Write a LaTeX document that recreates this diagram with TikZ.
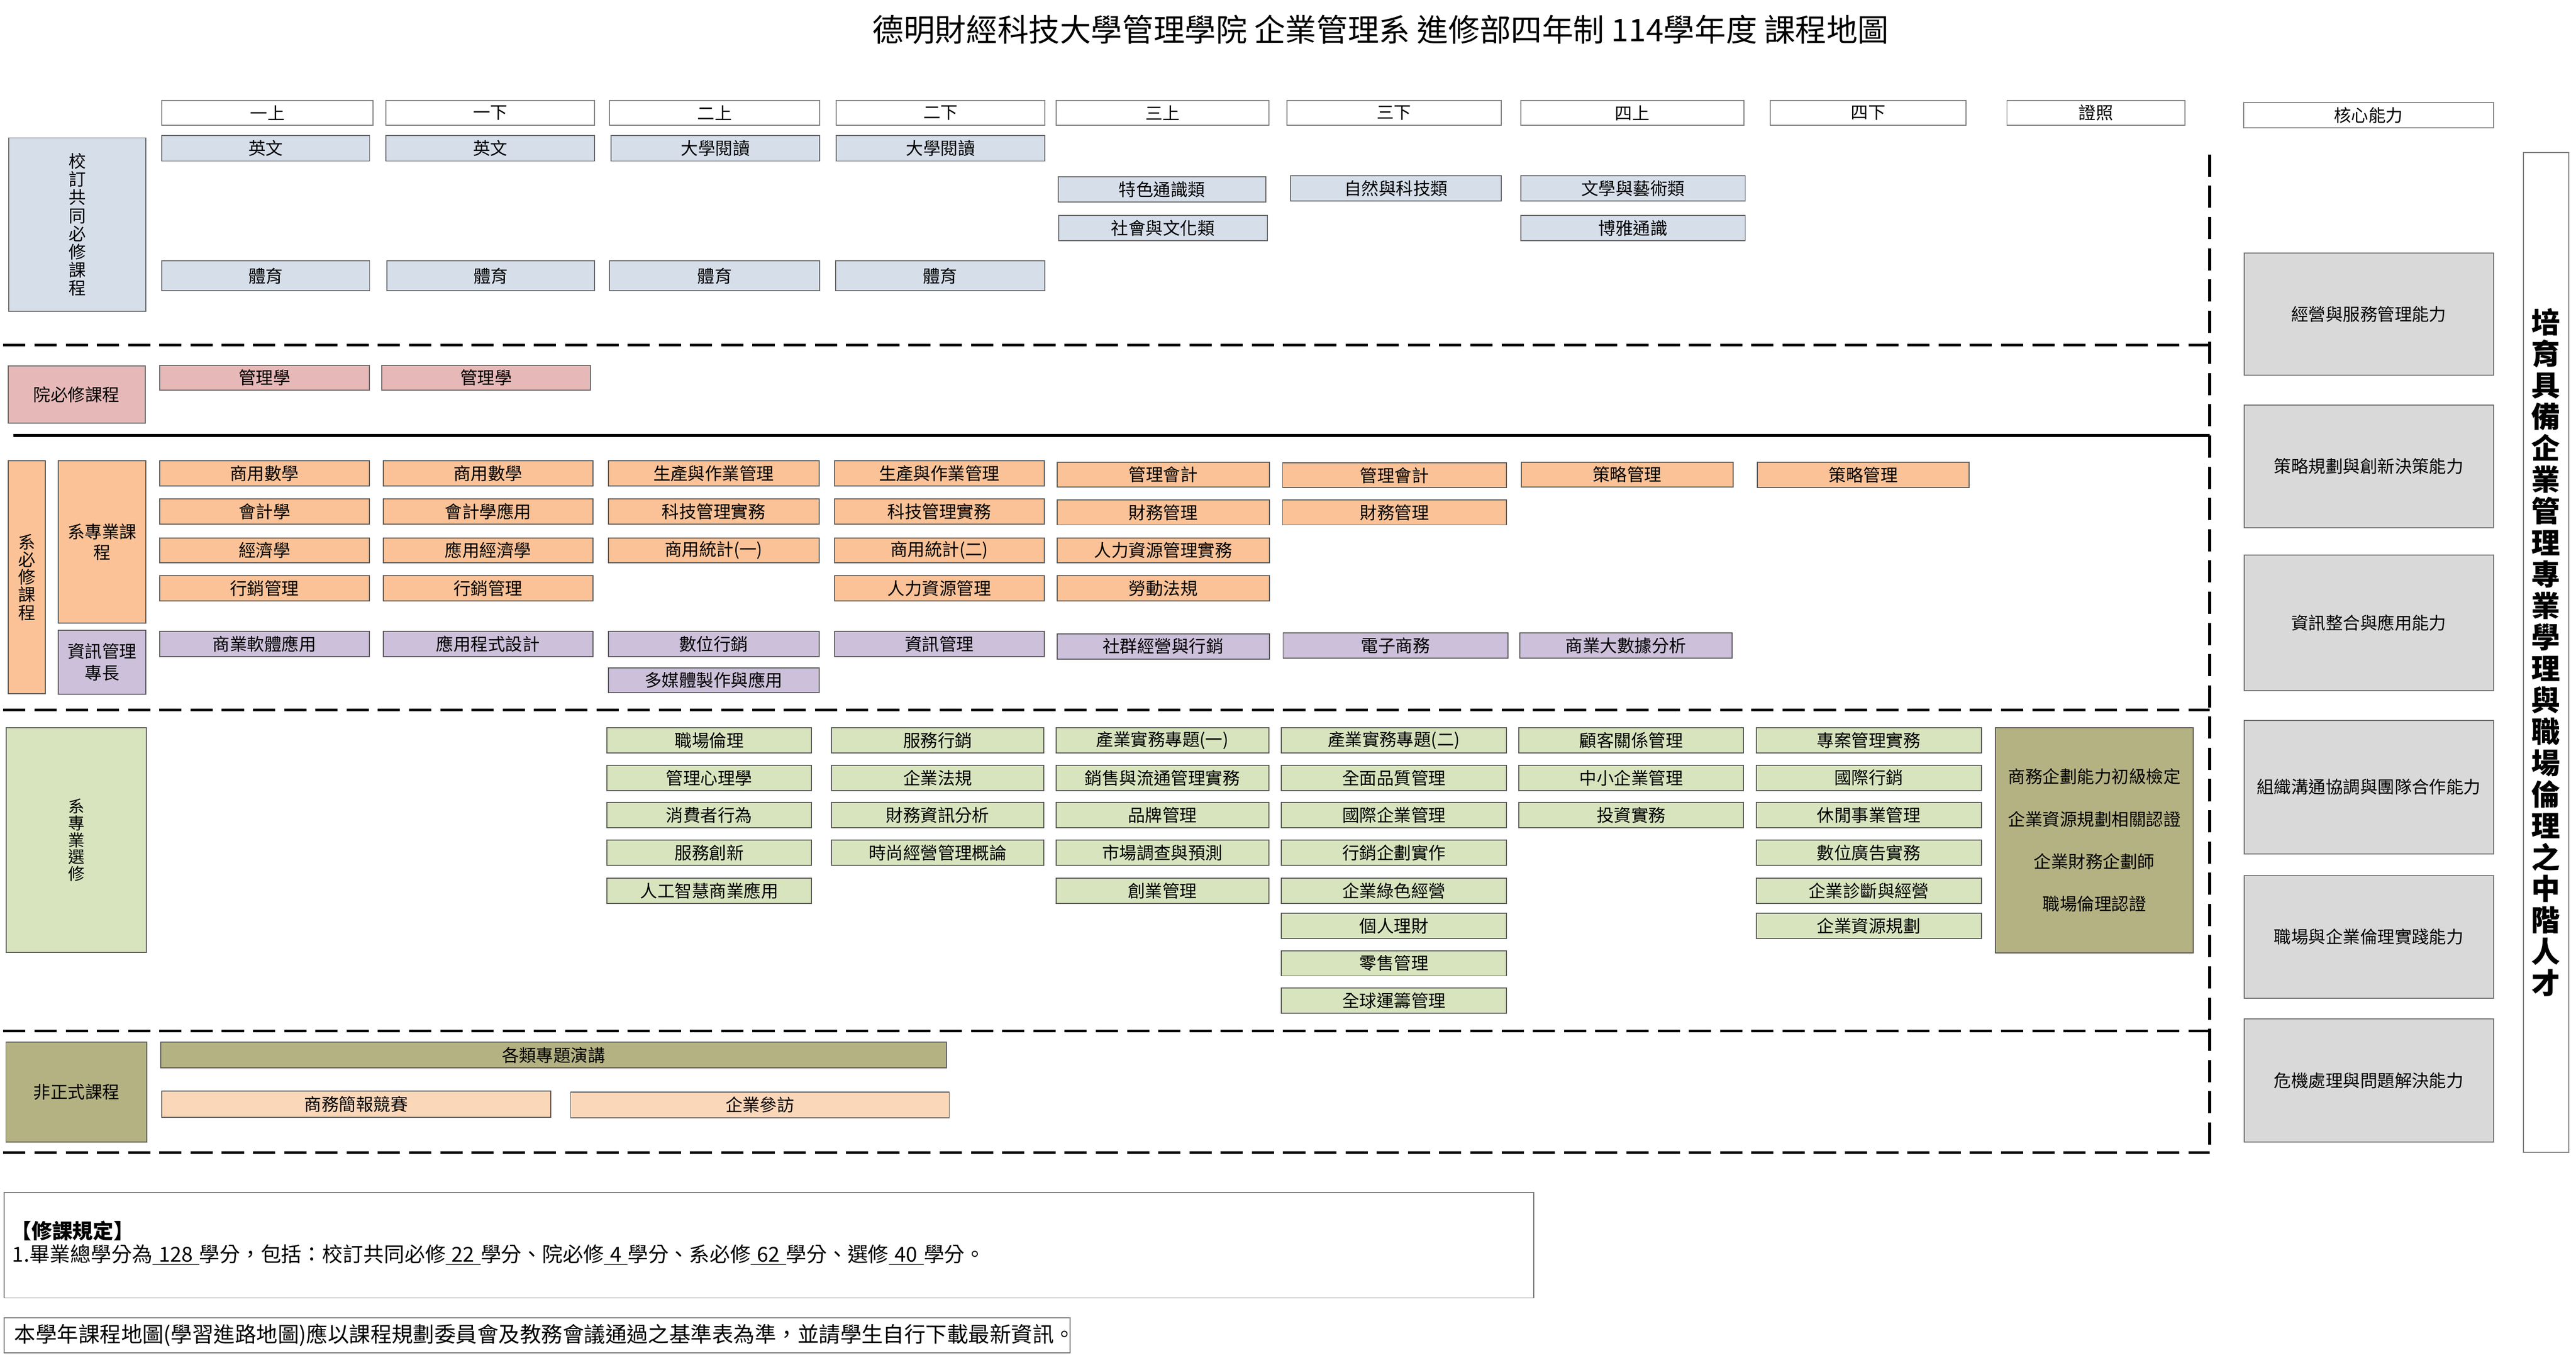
\documentclass[tikz,border=0pt]{standalone}
\usepackage{fontspec}
\setmainfont{Noto Sans CJK TC}
\definecolor{genc}{RGB}{214,222,234}
\definecolor{pinkc}{RGB}{230,185,184}
\definecolor{orgc}{RGB}{250,194,150}
\definecolor{purc}{RGB}{204,192,218}
\definecolor{grnc}{RGB}{216,228,190}
\definecolor{olvc}{RGB}{180,178,130}
\definecolor{pchc}{RGB}{251,215,185}
\definecolor{corec}{RGB}{217,217,217}
\newcommand\crsbox[7]{%
  \node[#6, minimum width={(#4-#2)*1pt}, minimum height={(#5-#3)*1pt}] (#1) at ({(#2+#4)/2},{(#3+#5)/2}) {#7};}
\begin{document}
\begin{tikzpicture}[x=1pt,y=-1pt,
  base/.style={inner sep=0pt, outer sep=0pt, font=\fontsize{10.5}{12}\selectfont, line width=0.6pt, align=center},
  hdr/.style={base, draw=black!50, fill=white},
  gen/.style={base, draw=black!60, fill=genc},
  pk/.style={base, draw=black!60, fill=pinkc},
  org/.style={base, draw=black!65, fill=orgc},
  pur/.style={base, draw=black!65, fill=purc},
  grn/.style={base, draw=black!65, fill=grnc},
  olv/.style={base, draw=black!65, fill=olvc},
  pch/.style={base, draw=black!65, fill=pchc},
  core/.style={base, draw=black!55, fill=corec},
  note/.style={inner sep=0pt, anchor=west},
  divider/.style={line width=1.7pt, dash pattern=on 13.5pt off 5.5pt},
  solidline/.style={line width=1.8pt}
]
\useasboundingbox (0,0) rectangle (1568,826.3);

% title
\node[font=\fontsize{19}{22}\selectfont, inner sep=0pt] (title) at (840.5,18) {德明財經科技大學管理學院 企業管理系 進修部四年制 114學年度 課程地圖};

% header row
\crsbox{h1}{98.6}{61.1}{227}{76.3}{hdr}{一上}
\crsbox{h2}{235}{61.1}{362}{76.3}{hdr}{一下}
\crsbox{h3}{371}{61.1}{499}{76.3}{hdr}{二上}
\crsbox{h4}{509}{61.1}{636}{76.3}{hdr}{二下}
\crsbox{h5}{643}{61.1}{772.3}{76.3}{hdr}{三上}
\crsbox{h6}{783.4}{61.1}{913.7}{76.3}{hdr}{三下}
\crsbox{h7}{925.6}{61.1}{1061.4}{76.3}{hdr}{四上}
\crsbox{h8}{1077.5}{61.1}{1196.7}{76.3}{hdr}{四下}
\crsbox{h9}{1221.6}{61.1}{1330}{76.3}{hdr}{證照}
\crsbox{hc}{1365.7}{62.5}{1517.7}{77.7}{hdr}{核心能力}

% general required
\crsbox{gl}{5.3}{83.9}{88.8}{189.4}{gen, font=\fontsize{10.5}{11}\selectfont}{校\\訂\\共\\同\\必\\修\\課\\程}
\crsbox{g1}{98.6}{82.6}{225}{98}{gen}{英文}
\crsbox{g2}{235}{82.6}{362}{98}{gen}{英文}
\crsbox{g3}{372}{82.6}{499}{98}{gen}{大學閱讀}
\crsbox{g4}{509}{82.6}{636}{98}{gen}{大學閱讀}
\crsbox{g5}{644}{107.6}{770.5}{123}{gen}{特色通識類}
\crsbox{g6}{785.7}{107}{913.7}{122.4}{gen}{自然與科技類}
\crsbox{g7}{925.6}{107}{1062.3}{122.4}{gen}{文學與藝術類}
\crsbox{g8}{644.4}{131.2}{771.4}{146.5}{gen}{社會與文化類}
\crsbox{g9}{925.6}{131.2}{1062.3}{146.5}{gen}{博雅通識}
\crsbox{g10}{98.6}{158.7}{225}{177}{gen}{體育}
\crsbox{g11}{235.5}{158.7}{362}{177}{gen}{體育}
\crsbox{g12}{371}{158.7}{499}{177}{gen}{體育}
\crsbox{g13}{508.6}{158.7}{636}{177}{gen}{體育}

% college required
\crsbox{ml}{4.9}{222.7}{88.3}{257.5}{pk}{院必修課程}
\crsbox{m1}{97.1}{222.2}{224.9}{237.4}{pk}{管理學}
\crsbox{m2}{232.3}{222.2}{359.5}{237.4}{pk}{管理學}

% department required
\crsbox{dl}{4.9}{280.4}{27.6}{422.1}{org, font=\fontsize{10.5}{10.7}\selectfont}{系\\必\\修\\課\\程}
\crsbox{dp}{35.5}{280.4}{88.8}{379.2}{org, font=\fontsize{10.5}{12.6}\selectfont}{系專業課\\程}
\crsbox{di}{35.5}{383.4}{88.8}{422.4}{pur, font=\fontsize{10.5}{13.3}\selectfont}{資訊管理\\專長}

\crsbox{d11}{97.1}{280.4}{224.9}{295.7}{org}{商用數學}
\crsbox{d12}{97.1}{303.5}{224.9}{318.9}{org}{會計學}
\crsbox{d13}{97.1}{327.3}{224.9}{342.5}{org}{經濟學}
\crsbox{d14}{97.1}{350.4}{224.9}{365.6}{org}{行銷管理}
\crsbox{d21}{233.2}{280.4}{361}{295.7}{org}{商用數學}
\crsbox{d22}{233.2}{303.5}{361}{318.9}{org}{會計學應用}
\crsbox{d23}{233.2}{327.3}{361}{342.5}{org}{應用經濟學}
\crsbox{d24}{233.2}{350.4}{361}{365.6}{org}{行銷管理}
\crsbox{d31}{370.3}{280.4}{498.5}{295.7}{org}{生產與作業管理}
\crsbox{d32}{370.3}{303.5}{498.5}{318.9}{org}{科技管理實務}
\crsbox{d33}{370.3}{327.3}{498.5}{342.5}{org}{商用統計(一)}
\crsbox{d41}{507.9}{280.4}{635.6}{295.7}{org}{生產與作業管理}
\crsbox{d42}{507.9}{303.5}{635.6}{318.9}{org}{科技管理實務}
\crsbox{d43}{507.9}{327.3}{635.6}{342.5}{org}{商用統計(二)}
\crsbox{d44}{507.9}{350.4}{635.6}{365.6}{org}{人力資源管理}
\crsbox{d51}{643.4}{281.2}{772.6}{296.4}{org}{管理會計}
\crsbox{d52}{643.4}{304.2}{772.6}{319.4}{org}{財務管理}
\crsbox{d53}{643.4}{327.3}{772.6}{342.5}{org}{人力資源管理實務}
\crsbox{d54}{643.4}{350.4}{772.6}{365.6}{org}{勞動法規}
\crsbox{d61}{780.7}{281.6}{917}{296.8}{org}{管理會計}
\crsbox{d62}{780.7}{304.2}{917}{319.4}{org}{財務管理}
\crsbox{d71}{926}{281.2}{1054.8}{296.4}{org}{策略管理}
\crsbox{d81}{1069.6}{281.4}{1198.7}{296.6}{org}{策略管理}

\crsbox{i1}{97.1}{384.1}{224.9}{399.6}{pur}{商業軟體應用}
\crsbox{i2}{233.2}{384.1}{361}{399.6}{pur}{應用程式設計}
\crsbox{i3}{370.3}{384.1}{498.5}{399.6}{pur}{數位行銷}
\crsbox{i4}{507.9}{384.1}{635.6}{399.6}{pur}{資訊管理}
\crsbox{i5}{643.4}{385.6}{772.6}{401}{pur}{社群經營與行銷}
\crsbox{i6}{781}{385.2}{918}{400.6}{pur}{電子商務}
\crsbox{i7}{925}{385.2}{1054.3}{400.6}{pur}{商業大數據分析}
\crsbox{i8}{370.3}{406.3}{498.5}{421.4}{pur}{多媒體製作與應用}

% department electives
\crsbox{el}{3.65}{442.7}{89.2}{579.6}{grn, font=\fontsize{10}{10.3}\selectfont}{系\\專\\業\\選\\修}
\crsbox{ea1}{369.5}{442.9}{493.9}{458.2}{grn}{職場倫理}
\crsbox{ea2}{369.5}{465.6}{493.9}{481}{grn}{管理心理學}
\crsbox{ea3}{369.5}{488.2}{493.9}{503.7}{grn}{消費者行為}
\crsbox{ea4}{369.5}{511.2}{493.9}{526.5}{grn}{服務創新}
\crsbox{ea5}{369.5}{534.4}{493.9}{549.6}{grn}{人工智慧商業應用}
\crsbox{eb1}{506.2}{442.9}{635.3}{458.2}{grn}{服務行銷}
\crsbox{eb2}{506.2}{465.6}{635.3}{481}{grn}{企業法規}
\crsbox{eb3}{506.2}{488.2}{635.3}{503.7}{grn}{財務資訊分析}
\crsbox{eb4}{506.2}{511.2}{635.3}{526.5}{grn}{時尚經營管理概論}
\crsbox{ec1}{642.8}{442.9}{772.3}{458.2}{grn}{產業實務專題(一)}
\crsbox{ec2}{642.8}{465.6}{772.3}{481}{grn}{銷售與流通管理實務}
\crsbox{ec3}{642.8}{488.2}{772.3}{503.7}{grn}{品牌管理}
\crsbox{ec4}{642.8}{511.2}{772.3}{526.5}{grn}{市場調查與預測}
\crsbox{ec5}{642.8}{534.4}{772.3}{549.6}{grn}{創業管理}
\crsbox{ed1}{779.9}{442.9}{917}{458.2}{grn}{產業實務專題(二)}
\crsbox{ed2}{779.9}{465.6}{917}{481}{grn}{全面品質管理}
\crsbox{ed3}{779.9}{488.2}{917}{503.7}{grn}{國際企業管理}
\crsbox{ed4}{779.9}{511.2}{917}{526.5}{grn}{行銷企劃實作}
\crsbox{ed5}{779.9}{534.4}{917}{549.6}{grn}{企業綠色經營}
\crsbox{ed6}{779.9}{555.7}{917}{571}{grn}{個人理財}
\crsbox{ed7}{779.9}{578.5}{917}{593.8}{grn}{零售管理}
\crsbox{ed8}{779.9}{601.2}{917}{616.5}{grn}{全球運籌管理}
\crsbox{ee1}{924.6}{442.9}{1061.3}{458.2}{grn}{顧客關係管理}
\crsbox{ee2}{924.6}{465.6}{1061.3}{481}{grn}{中小企業管理}
\crsbox{ee3}{924.6}{488.2}{1061.3}{503.7}{grn}{投資實務}
\crsbox{ef1}{1069}{442.9}{1206}{458.2}{grn}{專案管理實務}
\crsbox{ef2}{1069}{465.6}{1206}{481}{grn}{國際行銷}
\crsbox{ef3}{1069}{488.2}{1206}{503.7}{grn}{休閒事業管理}
\crsbox{ef4}{1069}{511.2}{1206}{526.5}{grn}{數位廣告實務}
\crsbox{ef5}{1069}{534.4}{1206}{549.6}{grn}{企業診斷與經營}
\crsbox{ef6}{1069}{555.7}{1206}{571}{grn}{企業資源規劃}

% certificates
\crsbox{cert}{1214.6}{442.9}{1335}{579.7}{olv, font=\fontsize{10.5}{25.8}\selectfont}{商務企劃能力初級檢定\\企業資源規劃相關認證\\企業財務企劃師\\職場倫理認證}

% informal
\crsbox{nl}{3.6}{634.1}{89.4}{695}{olv}{非正式課程}
\crsbox{n1}{97.9}{634.1}{576}{649.9}{olv}{各類專題演講}
\crsbox{n2}{98.5}{663.8}{335.1}{679.8}{pch}{商務簡報競賽}
\crsbox{n3}{347.3}{664.4}{577.8}{680.3}{pch}{企業參訪}

% core abilities
\crsbox{k1}{1366}{153.9}{1517.7}{228.2}{core}{經營與服務管理能力}
\crsbox{k2}{1366}{246.6}{1517.7}{321}{core}{策略規劃與創新決策能力}
\crsbox{k3}{1366}{337.7}{1517.7}{420.3}{core}{資訊整合與應用能力}
\crsbox{k4}{1366}{438.4}{1517.7}{519.5}{core}{組織溝通協調與團隊合作能力}
\crsbox{k5}{1366}{532.9}{1517.7}{607.4}{core}{職場與企業倫理實踐能力}
\crsbox{k6}{1366}{620}{1517.7}{694.8}{core}{危機處理與問題解決能力}

% goal
\crsbox{goal}{1536}{92.9}{1563.5}{701.3}{hdr, font=\fontsize{17.5}{19.15}\selectfont\bfseries}{培\\育\\具\\備\\企\\業\\管\\理\\專\\業\\學\\理\\與\\職\\場\\倫\\理\\之\\中\\階\\人\\才}

% dividers
\coordinate (a0) at (2,210);   \coordinate (b0) at (1345,210);
\coordinate (a1) at (8,265);   \coordinate (b1) at (1345,265);
\coordinate (a2) at (2,432);   \coordinate (b2) at (1345,432);
\coordinate (a3) at (2,627.3); \coordinate (b3) at (1345,627.3);
\coordinate (a4) at (2,701.3); \coordinate (b4) at (1345,701.3);
\coordinate (vt) at (1345,94);
\draw[divider] (a0) -- (b0);
\draw[solidline] (a1) -- (b1);
\draw[divider] (a2) -- (b2);
\draw[divider] (a3) -- (b3);
\draw[divider] (a4) -- (b4);
\draw[divider] (vt) -- (b4);

% rules
\node[draw=black!55, line width=0.6pt, minimum width=931.2pt, minimum height=64.1pt, inner sep=0pt] (rules) at (468,757.75) {};
\node[note, font=\fontsize{12.5}{14}\selectfont\bfseries] (rt1) at (6.5,749) {【修課規定】};
\node[note, font=\fontsize{12.5}{14}\selectfont] (rt2) at (7.3,763.7) {1.畢業總學分為\underline{\hspace{0.3em}128\hspace{0.3em}}學分，包括：校訂共同必修\underline{\hspace{0.3em}22\hspace{0.3em}}學分、院必修\underline{\hspace{0.3em}4\hspace{0.3em}}學分、系必修\underline{\hspace{0.3em}62\hspace{0.3em}}學分、選修\underline{\hspace{0.3em}40\hspace{0.3em}}學分。};
\node[draw=black!55, line width=0.6pt, minimum width=649pt, minimum height=21.5pt, inner sep=0pt] (notebox) at (326.9,812.55) {};
\node[note, font=\fontsize{13}{15}\selectfont] (nt) at (8.5,812.5) {本學年課程地圖(學習進路地圖)應以課程規劃委員會及教務會議通過之基準表為準，並請學生自行下載最新資訊。};
\end{tikzpicture}
\end{document}
